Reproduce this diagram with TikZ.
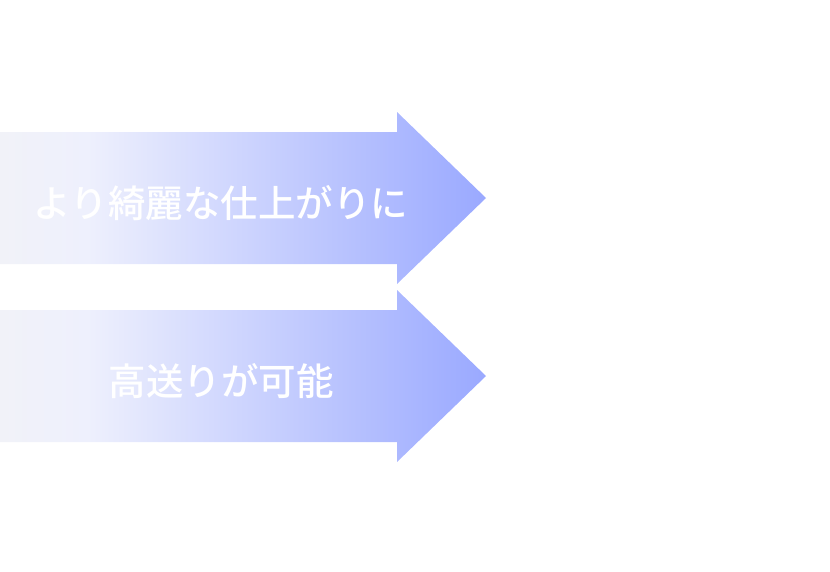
\documentclass[tikz,border=0pt]{standalone}
\usepackage{fontspec}
\newfontfamily\cjk{Noto Sans CJK JP Medium}
\definecolor{c0}{HTML}{F1F2F8}
\definecolor{c1}{HTML}{EEF0FD}
\definecolor{c2}{HTML}{9AA9FF}
\pgfdeclarehorizontalshading{arrowshade}{100bp}{color(0bp)=(c0); color(25bp)=(c0); color(34bp)=(c1); color(75bp)=(c2); color(100bp)=(c2)}
\tikzset{lbl/.style={text=white,font=\cjk\fontsize{37.5}{37.5}\selectfont}}
\begin{document}
\begin{tikzpicture}[x=1pt,y=-1pt]
\useasboundingbox (0,0) rectangle (830,571);
\shade[shading=arrowshade] (0,132) -- (397,132) -- (397,112) -- (486,198) -- (397,284) -- (397,264) -- (0,264) -- cycle;
\shade[shading=arrowshade] (0,310) -- (397,310) -- (397,290) -- (486,376) -- (397,462) -- (397,442) -- (0,442) -- cycle;
\node[lbl] (t1) at (221,203) {より綺麗な仕上がりに};
\node[lbl] (t2) at (221,381) {高送りが可能};
\end{tikzpicture}
\end{document}
